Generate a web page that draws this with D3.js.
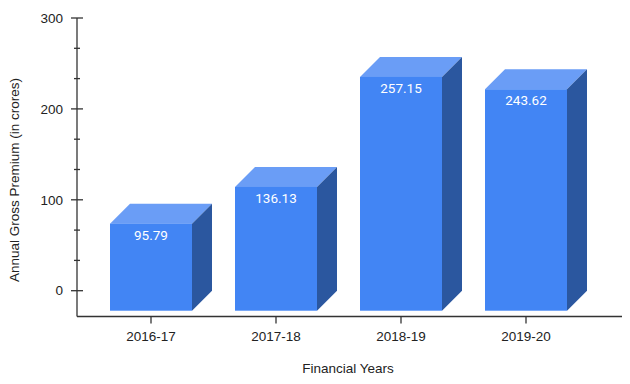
<!DOCTYPE html>
<html><head><meta charset="utf-8">
<script src="https://cdn.jsdelivr.net/npm/d3@7"></script>
<style>body{margin:0;background:#fff}svg{display:block;font-family:"Liberation Sans",Arial,sans-serif}</style>
</head><body><svg id="c" width="630" height="384"></svg>
<script>
const categories = ["2016-17","2017-18","2018-19","2019-20"];
const values = [95.79,136.13,257.15,243.62];
const yTicks = [0,100,200,300];
const yMinorTicks = [100/3,200/3,400/3,500/3,700/3,800/3];

const svg = d3.select("#c");
const depthX = 20, depthY = 20;
const y = d3.scaleLinear().domain([0,300]).range([290.7,18]);
const x = d3.scaleBand().domain(categories).range([88.5,588.5]);
const frontW = 82;
const cx = d => x(d) + x.bandwidth()/2;

const frontColor = "#4285f4", topColor = "#6a9df6", sideColor = "#2b579f";

// bars
const g = svg.append("g");
categories.forEach((c,i) => {
  const v = values[i];
  const fl = cx(c) - frontW/2, fr = fl + frontW;
  const ft = y(v) + depthY, fb = y(0) + depthY;
  const bar = g.append("g");
  bar.append("path").attr("fill", topColor)
    .attr("d", `M${fl},${ft}L${fl+depthX},${ft-depthY}L${fr+depthX},${ft-depthY}L${fr},${ft}Z`);
  bar.append("path").attr("fill", sideColor)
    .attr("d", `M${fr},${ft}L${fr+depthX},${ft-depthY}L${fr+depthX},${fb-depthY}L${fr},${fb}Z`);
  bar.append("rect").attr("fill", frontColor)
    .attr("x", fl).attr("y", ft).attr("width", frontW).attr("height", fb-ft);
  bar.append("text").attr("x", cx(c)).attr("y", ft + 16)
    .attr("text-anchor","middle").attr("fill","#fff").attr("font-size",13.5)
    .attr("font-family","Roboto,Arial,sans-serif")
    .text(v.toFixed(2));
});

// y axis
const ax = 77, axisBottom = 316.5;
svg.append("line").attr("x1",ax).attr("x2",ax).attr("y1",y(300)).attr("y2",axisBottom)
  .attr("stroke","#333").attr("stroke-width",1.3);
yTicks.forEach(t => {
  svg.append("line").attr("x1",ax-6).attr("x2",ax+6).attr("y1",y(t)).attr("y2",y(t))
    .attr("stroke","#333").attr("stroke-width",1.3);
  svg.append("text").attr("x",63).attr("y",y(t)).attr("dy","0.35em")
    .attr("text-anchor","end").attr("font-size",13.5).attr("fill","#222").text(t);
});
yMinorTicks.forEach(t => {
  svg.append("line").attr("x1",ax-3).attr("x2",ax+3).attr("y1",y(t)).attr("y2",y(t))
    .attr("stroke","#333").attr("stroke-width",1.3);
});

// x axis
svg.append("line").attr("x1",ax).attr("x2",622).attr("y1",axisBottom).attr("y2",axisBottom)
  .attr("stroke","#333").attr("stroke-width",1.3);
categories.forEach(c => {
  svg.append("line").attr("x1",cx(c)).attr("x2",cx(c)).attr("y1",axisBottom).attr("y2",axisBottom+7)
    .attr("stroke","#333").attr("stroke-width",1.3);
  svg.append("text").attr("x",cx(c)).attr("y",341)
    .attr("text-anchor","middle").attr("font-size",13.5).attr("fill","#222").text(c);
});

svg.append("text").attr("x",348).attr("y",373).attr("text-anchor","middle")
  .attr("font-size",13.5).attr("fill","#222").text("Financial Years");
svg.append("text").attr("transform","translate(19,180) rotate(-90)").attr("text-anchor","middle")
  .attr("font-size",13.5).attr("fill","#222").text("Annual Gross Premium (in crores)");
</script></body></html>
